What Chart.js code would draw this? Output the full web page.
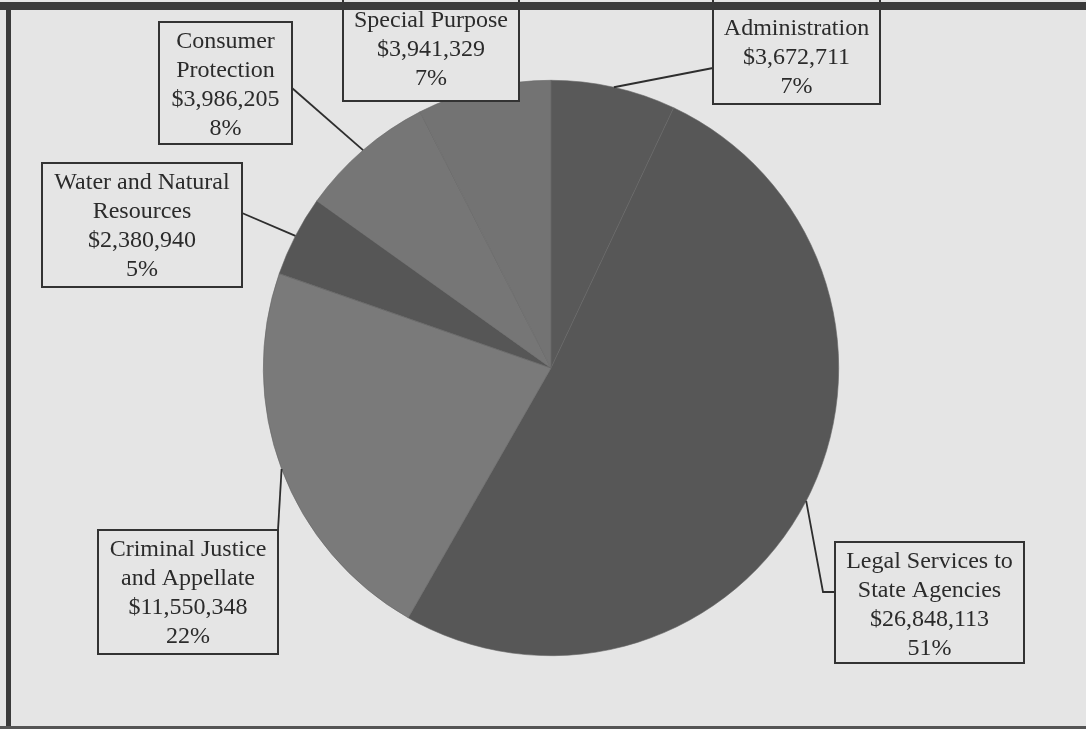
<!DOCTYPE html>
<html>
<head>
<meta charset="utf-8">
<script src="https://cdn.jsdelivr.net/npm/chart.js@4/dist/chart.umd.min.js"></script>
<style>
  html, body { margin: 0; padding: 0; background: #e5e5e5; }
  #wrap { width: 1086px; height: 729px; }
</style>
</head>
<body>
<div id="wrap"><canvas id="c" width="1086" height="729"></canvas></div>
<script>
// ---- data ----
const categories = ['Administration', 'Legal Services to State Agencies', 'Criminal Justice and Appellate', 'Water and Natural Resources', 'Consumer Protection', 'Special Purpose'];
const amounts = [3672711, 26848113, 11550348, 2380940, 3986205, 3941329];
const pctLabels = ['7%', '51%', '22%', '5%', '8%', '7%'];
const labelLines = [['Administration'], ['Legal Services to', 'State Agencies'], ['Criminal Justice', 'and Appellate'], ['Water and Natural', 'Resources'], ['Consumer', 'Protection'], ['Special Purpose']];

// ---- style ----
const sliceColors = ['#595959', '#575757', '#7a7a7a', '#565656', '#767676', '#737373'];
const BG = '#e5e5e5';
const INK = '#2b2b2b';

// label box layout (positions only)
const boxLayout = [
  { x: 713, y: -5, w: 167, h: 109, ty: 29, leader: [[713, 68]] },
  { x: 835, y: 542, w: 189, h: 121, ty: 562, leader: [[823, 592], [835, 592]] },
  { x: 98, y: 530, w: 180, h: 124, ty: 550, leader: [[278, 530]] },
  { x: 42, y: 163, w: 200, h: 124, ty: 183, leader: [[242, 213]] },
  { x: 159, y: 22, w: 133, h: 122, ty: 42, leader: [[292, 88]] },
  { x: 343, y: -5, w: 176, h: 106, ty: 21, leader: null }
];
const LINE_H = 29;

const bgPlugin = {
  id: 'bg',
  beforeDraw(chart) {
    const ctx = chart.ctx;
    ctx.save();
    ctx.fillStyle = BG;
    ctx.fillRect(0, 0, chart.width, chart.height);
    ctx.restore();
  }
};

const labelPlugin = {
  id: 'labels',
  afterDatasetsDraw(chart) {
    const ctx = chart.ctx;
    const meta = chart.getDatasetMeta(0);
    ctx.save();
    // leader lines
    ctx.strokeStyle = '#2e2e2e';
    ctx.lineWidth = 1.8;
    meta.data.forEach((arc, i) => {
      const b = boxLayout[i];
      if (!b.leader) return;
      const p = arc.getProps(['x', 'y', 'startAngle', 'endAngle', 'outerRadius'], true);
      const mid = (p.startAngle + p.endAngle) / 2;
      const px = p.x + Math.cos(mid) * p.outerRadius;
      const py = p.y + Math.sin(mid) * p.outerRadius;
      ctx.beginPath();
      ctx.moveTo(px, py);
      b.leader.forEach(pt => ctx.lineTo(pt[0], pt[1]));
      ctx.stroke();
    });
    // boxes + text
    ctx.textAlign = 'center';
    ctx.textBaseline = 'middle';
    ctx.font = '24px "Liberation Serif", "Times New Roman", serif';
    meta.data.forEach((arc, i) => {
      const b = boxLayout[i];
      ctx.fillStyle = BG;
      ctx.fillRect(b.x, b.y, b.w, b.h);
      ctx.strokeStyle = '#333';
      ctx.lineWidth = 2;
      ctx.strokeRect(b.x, b.y, b.w, b.h);
      const lines = labelLines[i].concat(['$' + amounts[i].toLocaleString('en-US'), pctLabels[i]]);
      ctx.fillStyle = INK;
      const cx = b.x + b.w / 2;
      lines.forEach((t, k) => ctx.fillText(t, cx, b.ty + k * LINE_H));
    });
    // frame
    ctx.fillStyle = '#3a3a3a';
    ctx.fillRect(0, 2, chart.width, 8);
    ctx.fillRect(6, 2, 5, chart.height);
    ctx.fillStyle = '#555';
    ctx.fillRect(0, 726, chart.width, 3);
    ctx.restore();
  }
};

new Chart(document.getElementById('c'), {
  type: 'pie',
  data: {
    labels: categories,
    datasets: [{
      data: amounts,
      backgroundColor: sliceColors,
      borderColor: '#666666',
      borderWidth: 0.6,
      hoverOffset: 0
    }]
  },
  options: {
    responsive: false,
    animation: false,
    events: [],
    layout: { padding: { left: 16, right: 0, top: 80, bottom: 73 } },
    plugins: {
      legend: { display: false },
      tooltip: { enabled: false },
      title: { display: false }
    }
  },
  plugins: [bgPlugin, labelPlugin]
});
</script>
</body>
</html>
